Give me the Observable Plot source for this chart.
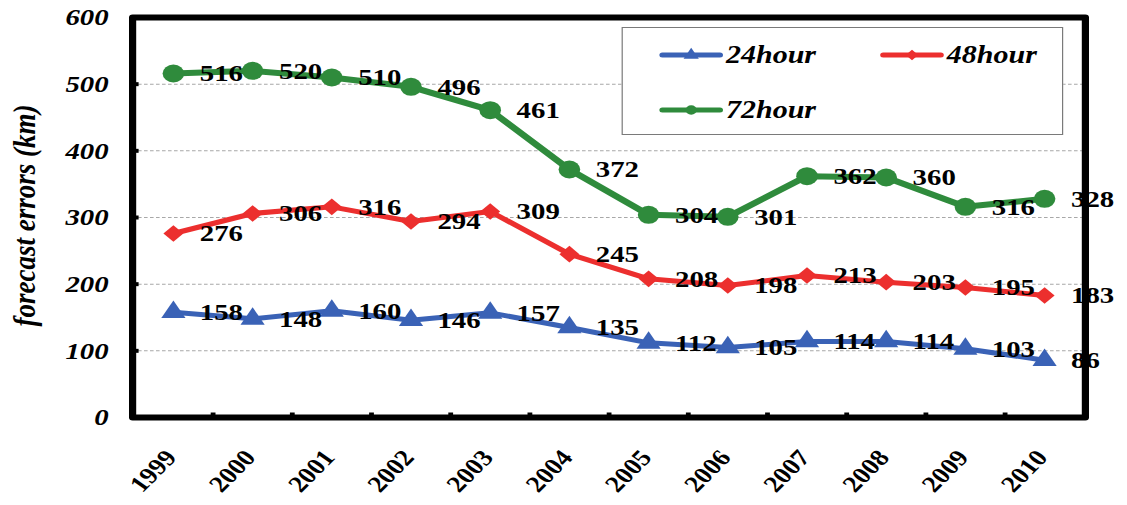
<!DOCTYPE html>
<html><head><meta charset="utf-8">
<script src="https://cdn.jsdelivr.net/npm/d3@7"></script>
<script src="https://cdn.jsdelivr.net/npm/@observablehq/plot@0.6"></script>
<style>
html,body{margin:0;padding:0;background:#fff;overflow:hidden}
#wrap{position:relative;width:939px;height:505px;transform:scaleX(1.2);transform-origin:0 0;font-family:"Liberation Serif","Times New Roman",Tinos,"DejaVu Serif",serif;background:#fff}
#legend{position:absolute;left:518px;top:27px;width:366px;height:106px;border:1px solid #7a7a7a;background:#fff}
.item{position:absolute;display:flex;align-items:center;font-style:italic;font-weight:bold;font-size:25px;font-family:"Liberation Serif","Times New Roman",Tinos,"DejaVu Serif",serif;color:#000;line-height:1}
.item svg{margin-right:2px}
</style></head><body><div id="wrap"><div id="chart"></div><div id="legend"></div></div>
<script>
const years = ["1999","2000","2001","2002","2003","2004","2005","2006","2007","2008","2009","2010"];
const h24 = [158,148,160,146,157,135,112,105,114,114,103,86];
const h48 = [276,306,316,294,309,245,208,198,213,203,195,183];
const h72 = [516,520,510,496,461,372,304,301,362,360,316,328];
const seriesNames = ["24hour","48hour","72hour"];
const yTicks = [0,100,200,300,400,500,600];
const gridTicks = [100,200,300,400,500];

const FONT = '"Liberation Serif","Times New Roman",Tinos,"DejaVu Serif",serif';
const seriesStyle = {
  "24hour": {color:"#3a62b6", symbol:"triangle", r:7.5, width:5},
  "48hour": {color:"#ec2f2e", symbol:"diamond2", r:7.5, width:5},
  "72hour": {color:"#2f8b3c", symbol:"circle", r:9, width:6}
};
const values = {"24hour":h24,"48hour":h48,"72hour":h72};
const data = [];
for (const s of seriesNames) values[s].forEach((v,i)=>data.push({series:s, year:years[i], value:v}));

const W = 939, H = 505, ml = 110, mr = 35, mt = 17, mb = 88;
const step = (W - ml - mr) / years.length;

const hTick = {draw(ctx){ctx.moveTo(0,0);ctx.lineTo(5,0);}};
const vTick = {draw(ctx){ctx.moveTo(0,0);ctx.lineTo(0,-5);}};

const marks = [
  Plot.gridY(gridTicks, {stroke:"#a8a8a8", strokeOpacity:1, strokeDasharray:"3,2", strokeWidth:1}),
  Plot.axisY(yTicks, {tickSize:0, tickPadding:20, fontSize:24, fontStyle:"italic", fontWeight:"bold", fontFamily:FONT, label:null}),
  Plot.axisX(years, {tickSize:0, tickPadding:36, dx:-2, tickRotate:-50, fontSize:23, fontWeight:"bold", fontFamily:FONT, label:null}),
  Plot.text(["forecast errors (km)"], {text:d=>d, frameAnchor:"left", textAnchor:"middle", dx:-90, dy:-2, rotate:-90, fontSize:27, fontStyle:"italic", fontWeight:"bold", fontFamily:FONT})
];
for (const s of ["72hour","48hour","24hour"]) {
  const st = seriesStyle[s];
  const d = data.filter(e=>e.series===s);
  marks.push(Plot.line(d, {x:"year", y:"value", stroke:st.color, strokeWidth:st.width, strokeLinejoin:"round", strokeLinecap:"round"}));
  marks.push(Plot.dot(d, {x:"year", y:"value", fill:st.color, symbol:st.symbol, r:st.r}));
}
marks.push(Plot.text(data, {x:"year", y:"value", text:d=>String(d.value), textAnchor:"start", dx:22, fontSize:24, fontWeight:"bold", fontFamily:FONT, fill:"black"}));
marks.push(Plot.dot(gridTicks, {y:d=>d, frameAnchor:"left", symbol:hTick, stroke:"black", strokeWidth:4, r:3}));
marks.push(Plot.dot(years.slice(0,-1), {x:d=>d, frameAnchor:"bottom", dx:step/2, symbol:vTick, stroke:"black", strokeWidth:4, r:3}));
marks.push(Plot.frame({stroke:"black", strokeWidth:6, strokeLinejoin:"round"}));

const chart = Plot.plot({
  width: W, height: H, marginLeft: ml, marginRight: mr, marginTop: mt, marginBottom: mb,
  x: {type:"point", domain: years, padding: 0.5, label: null},
  y: {domain:[0,600], label: null},
  style: {fontFamily:FONT, color:"black", background:"white", overflow:"visible"},
  marks
});
document.getElementById("chart").appendChild(chart);

// legend
const legend = document.getElementById("legend");
const legendPos = {"24hour":[30,26],"48hour":[214,26],"72hour":[30,81]};
for (const s of seriesNames) {
  const st = seriesStyle[s];
  const [lx, ly] = legendPos[s];
  const div = document.createElement("div");
  div.className = "item";
  div.style.left = lx + "px";
  div.style.top = (ly - 12) + "px";
  const sym = {triangle:d3.symbolTriangle, diamond2:d3.symbolDiamond2, circle:d3.symbolCircle}[st.symbol];
  const p = d3.symbol(sym, 70)();
  div.innerHTML = `<svg width="54" height="24"><line x1="3" x2="51" y1="12" y2="12" stroke="${st.color}" stroke-width="5" stroke-linecap="round"/><path d="${p}" transform="translate(27,12)" fill="${st.color}"/></svg><span>${s}</span>`;
  legend.appendChild(div);
}
</script></body></html>
